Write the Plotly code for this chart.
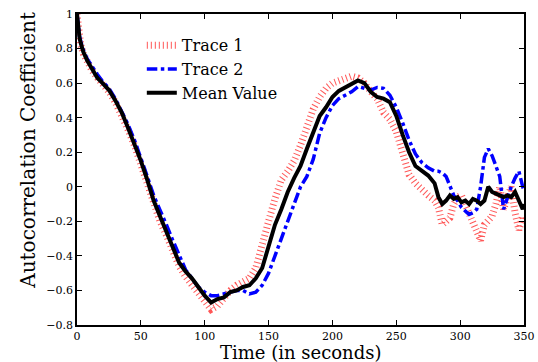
import plotly.graph_objects as go

time_s = [0, 1, 2, 3, 5, 8, 12, 16, 20, 25, 30, 35, 40, 45, 50, 55, 60, 65, 70, 75,
          80, 85, 90, 95, 100, 105, 110, 115, 120, 125, 130, 135, 140, 145, 150, 155,
          160, 165, 170, 175, 180, 185, 190, 195, 200, 205, 210, 215, 220, 225, 230,
          235, 240, 245, 250, 255, 260, 265, 270, 275, 280, 283, 286, 289, 292, 295,
          298, 301, 304, 307, 310, 313, 316, 319, 322, 325, 328, 331, 334, 337, 340,
          343, 346, 349, 350]

trace1 = [1.0, 0.91, 0.85, 0.82, 0.77, 0.72, 0.67, 0.63, 0.60, 0.55, 0.49, 0.42, 0.33,
          0.24, 0.13, 0.01, -0.10, -0.20, -0.28, -0.38, -0.46, -0.52, -0.57, -0.62,
          -0.66, -0.71, -0.69, -0.64, -0.60, -0.57, -0.55, -0.53, -0.47, -0.35, -0.20,
          -0.07, 0.04, 0.09, 0.15, 0.24, 0.35, 0.45, 0.52, 0.57, 0.60, 0.61, 0.63, 0.64,
          0.63, 0.60, 0.55, 0.51, 0.43, 0.39, 0.32, 0.21, 0.07, 0.02, -0.02, -0.05,
          -0.08, -0.12, -0.22, -0.20, -0.18, -0.10, -0.06, -0.05, -0.10, -0.17, -0.21,
          -0.26, -0.31, -0.22, -0.19, -0.17, -0.10, 0.0, -0.13, -0.05, 0.0, -0.15,
          -0.25, -0.17, -0.20]

trace2 = [1.0, 0.93, 0.87, 0.84, 0.79, 0.74, 0.69, 0.65, 0.61, 0.57, 0.51, 0.44, 0.36,
          0.27, 0.17, 0.06, -0.05, -0.13, -0.22, -0.31, -0.40, -0.48, -0.53, -0.58,
          -0.61, -0.63, -0.63, -0.62, -0.61, -0.60, -0.60, -0.62, -0.61, -0.57, -0.50,
          -0.40, -0.30, -0.19, -0.10, 0.0, 0.06, 0.16, 0.31, 0.40, 0.47, 0.51, 0.53,
          0.55, 0.58, 0.57, 0.56, 0.575, 0.57, 0.53, 0.46, 0.37, 0.27, 0.19, 0.14,
          0.11, 0.09, 0.09, 0.08, 0.06, 0.0, -0.05, -0.08, -0.12, -0.14, -0.16, -0.15,
          -0.13, 0.0, 0.17, 0.22, 0.18, 0.12, 0.06, -0.13, -0.06, 0.0, 0.05, 0.09,
          0.0, -0.02]

mean_value = [1.0, 0.92, 0.86, 0.83, 0.78, 0.73, 0.68, 0.63, 0.60, 0.56, 0.50, 0.43,
              0.34, 0.25, 0.15, 0.04, -0.08, -0.17, -0.26, -0.35, -0.44, -0.49, -0.53,
              -0.58, -0.63, -0.67, -0.65, -0.64, -0.61, -0.60, -0.58, -0.57, -0.53,
              -0.47, -0.35, -0.22, -0.13, -0.03, 0.05, 0.12, 0.22, 0.31, 0.41, 0.46,
              0.52, 0.555, 0.575, 0.60, 0.615, 0.60, 0.55, 0.52, 0.51, 0.49, 0.41,
              0.30, 0.20, 0.12, 0.09, 0.065, 0.02, -0.06, -0.10, -0.08, -0.05, -0.07,
              -0.06, -0.09, -0.08, -0.10, -0.07, -0.08, -0.10, -0.08, 0.0, -0.03,
              -0.04, -0.05, -0.06, -0.05, -0.06, -0.03, -0.08, -0.13, -0.10]

x_ticks = [0, 50, 100, 150, 200, 250, 300, 350]
y_ticks = [-0.8, -0.6, -0.4, -0.2, 0, 0.2, 0.4, 0.6, 0.8, 1]
x_title = "Time (in seconds)"
y_title = "Autocorrelation Coefficient"

serif = "DejaVu Serif"

fig = go.Figure()
fig.add_trace(go.Scatter(x=time_s, y=trace1, mode="lines", name="Trace 1",
                         line=dict(color="rgba(255,30,30,0.75)", width=7, dash="1px,3px")))
fig.add_trace(go.Scatter(x=time_s, y=trace2, mode="lines", name="Trace 2",
                         line=dict(color="#0000ff", width=3.5, dash="dashdot")))
fig.add_trace(go.Scatter(x=time_s, y=mean_value, mode="lines", name="Mean Value",
                         line=dict(color="#000000", width=4)))

axis_common = dict(showgrid=False, zeroline=False, showline=True, linecolor="black",
                   linewidth=1.5, mirror="ticks", ticks="inside", ticklen=5,
                   tickcolor="black", tickwidth=1, automargin=False,
                   tickfont=dict(family=serif, size=11, color="black"))

fig.update_layout(
    width=538, height=362,
    margin=dict(l=77, r=14, t=14, b=37),
    paper_bgcolor="white", plot_bgcolor="white",
    font=dict(family=serif, color="black"),
    xaxis=dict(range=[0, 350], tickvals=x_ticks, **axis_common),
    yaxis=dict(range=[-0.8, 1], tickvals=y_ticks, **axis_common),
    legend=dict(x=0.145, y=0.954, xanchor="left", yanchor="top",
                bgcolor="rgba(0,0,0,0)", borderwidth=0,
                font=dict(family=serif, size=16, color="black"),
                tracegroupgap=0),
    showlegend=True,
    annotations=[
        dict(text=x_title, xref="paper", yref="paper", x=0.5, y=-0.088,
             xanchor="center", yanchor="middle", showarrow=False,
             font=dict(family=serif, size=18, color="black")),
        dict(text=y_title, xref="paper", yref="paper", x=-0.11, y=0.563,
             xanchor="center", yanchor="middle", showarrow=False, textangle=-90,
             font=dict(family=serif, size=20, color="black")),
    ],
)

fig.write_html("out.html", config={"displayModeBar": False},
               post_script="document.body.style.margin='0px';document.body.style.overflow='hidden';")
